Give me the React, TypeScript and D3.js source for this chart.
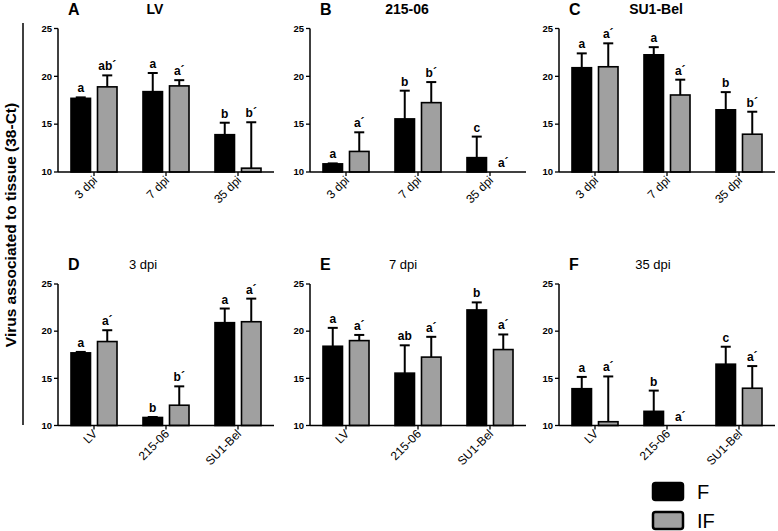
import React from 'react';
import * as d3 from 'd3';

// groups and series
const viruses = ['LV', '215-06', 'SU1-Bel'];
const times = ['3 dpi', '7 dpi', '35 dpi'];
const series = ['F', 'IF'];

// mean (38-Ct) per virus, per time point
const meanF = [[17.7, 18.4, 13.9], [10.85, 15.55, 11.5], [20.9, 22.25, 16.5]];
const errF = [[0.1, 1.95, 1.25], [0.05, 2.95, 2.2], [1.5, 0.8, 1.85]];
const meanIF = [[18.9, 19.0, 10.4], [12.15, 17.25, null], [21.0, 18.05, 13.95]];
const errIF = [[1.2, 0.6, 4.8], [2.0, 2.15, null], [2.45, 1.6, 2.35]];

// significance letters, top row: per virus panel, per time
const topLettersF = [['a', 'a', 'b'], ['a', 'b', 'c'], ['a', 'a', 'b']];
const topLettersIF = [['ab´', 'a´', 'b´'], ['a´', 'b´', 'a´'], ['a´', 'a´', 'b´']];
// bottom row: per time panel, per virus
const bottomLettersF = [['a', 'b', 'a'], ['a', 'ab', 'b'], ['a', 'b', 'c']];
const bottomLettersIF = [['a´', 'b´', 'a´'], ['a´', 'a´', 'a´'], ['a´', 'a´', 'a´']];

const topPanelLabels = ['A', 'B', 'C'];
const bottomPanelLabels = ['D', 'E', 'F'];
const yTicks = [10, 15, 20, 25];

const FONT = "Arial, 'Liberation Sans', sans-serif";
const GREY = '#a0a0a0';

type PanelProps = {
  x0: number;
  top: number;
  bottom: number;
  label: string;
  title: string;
  titleX: number;
  boldTitle: boolean;
  categories: string[];
  fVals: (number | null)[];
  fErr: (number | null)[];
  ifVals: (number | null)[];
  ifErr: (number | null)[];
  fLetters: string[];
  ifLetters: string[];
};

const Panel: React.FC<PanelProps> = (p) => {
  const width = 216;
  const y = d3.scaleLinear().domain([10, 25]).range([p.bottom, p.top]);
  const x = d3.scaleBand<string>().domain(p.categories).range([p.x0, p.x0 + width]).padding(0);
  const xs = d3.scaleBand<string>().domain(series).range([0, x.bandwidth()])
    .paddingInner(0.264).paddingOuter(0.49);

  const bars: JSX.Element[] = [];
  p.categories.forEach((c, i) => {
    const rows = [
      { s: 'F', v: p.fVals[i], e: p.fErr[i], lab: p.fLetters[i], fill: '#000' },
      { s: 'IF', v: p.ifVals[i], e: p.ifErr[i], lab: p.ifLetters[i], fill: GREY },
    ];
    rows.forEach((r) => {
      const bx = (x(c) ?? 0) + (xs(r.s) ?? 0);
      const bw = xs.bandwidth();
      const cx = bx + bw / 2;
      if (r.v == null) {
        bars.push(
          <text key={c + r.s + 't'} x={cx} y={p.bottom - 5} textAnchor="middle"
            fontSize={12} fontWeight="bold" fontFamily={FONT}>{r.lab}</text>
        );
        return;
      }
      const errTop = y(r.v + (r.e ?? 0));
      bars.push(
        <g key={c + r.s}>
          <line x1={cx} x2={cx} y1={y(r.v)} y2={errTop} stroke="#000" strokeWidth={2} />
          <line x1={cx - 5} x2={cx + 5} y1={errTop} y2={errTop} stroke="#000" strokeWidth={2} />
          <rect x={bx} y={y(r.v)} width={bw} height={p.bottom - y(r.v)}
            fill={r.fill} stroke="#000" strokeWidth={1.6} />
          <text x={cx} y={errTop - 5} textAnchor="middle" fontSize={12}
            fontWeight="bold" fontFamily={FONT}>{r.lab}</text>
        </g>
      );
    });
  });

  return (
    <g>
      <text x={p.x0 + 10} y={p.top - 14} fontSize={16} fontWeight="bold" fontFamily={FONT}>{p.label}</text>
      <text x={p.x0 + p.titleX} y={p.top - 15} textAnchor="middle" fontSize={p.boldTitle ? 14 : 13}
        fontWeight={p.boldTitle ? 'bold' : 'normal'} fontFamily={FONT}>{p.title}</text>
      {bars}
      {/* y axis */}
      <line x1={p.x0} x2={p.x0} y1={p.bottom} y2={p.top} stroke="#000" strokeWidth={1.5} />
      {yTicks.map((t) => (
        <g key={t}>
          <line x1={p.x0 - 4} x2={p.x0} y1={y(t)} y2={y(t)} stroke="#000" strokeWidth={1.3} />
          <text x={p.x0 - 6} y={y(t)} dy="0.35em" textAnchor="end" fontSize={9.5}
            fontWeight="bold" fontFamily={FONT}>{t}</text>
        </g>
      ))}
      {/* x axis */}
      <line x1={p.x0} x2={p.x0 + width} y1={p.bottom} y2={p.bottom} stroke="#000" strokeWidth={1.5} />
      {p.categories.map((c) => {
        const cx = (x(c) ?? 0) + x.bandwidth() / 2;
        return (
          <g key={c}>
            <line x1={cx} x2={cx} y1={p.bottom} y2={p.bottom + 4} stroke="#000" strokeWidth={1.3} />
            <text transform={`translate(${cx + 4},${p.bottom + 9}) rotate(-45)`} textAnchor="end"
              fontSize={12} fontFamily={FONT}>{c}</text>
          </g>
        );
      })}
    </g>
  );
};

const App: React.FC = () => {
  const panelX = [58, 310, 559];
  const topRow = { top: 28.5, bottom: 172 };
  const bottomRow = { top: 284, bottom: 425.5 };
  const bottomTitleX = [85, 93, 94];

  return (
    <svg width={778} height={531} style={{ position: 'absolute', left: 0, top: 0, background: '#fff' }}>
      <rect width={778} height={531} fill="#fff" />
      <text transform="translate(16,225) rotate(-90)" textAnchor="middle" fontSize={15.5}
        fontWeight="bold" fontFamily={FONT}>Virus associated to tissue (38-Ct)</text>
      <line x1={23} x2={23} y1={23} y2={425} stroke="#000" strokeWidth={1.5} />

      {viruses.map((v, vi) => (
        <Panel key={v} x0={panelX[vi]} top={topRow.top} bottom={topRow.bottom}
          label={topPanelLabels[vi]} title={v} titleX={97} boldTitle={true} categories={times}
          fVals={meanF[vi]} fErr={errF[vi]} ifVals={meanIF[vi]} ifErr={errIF[vi]}
          fLetters={topLettersF[vi]} ifLetters={topLettersIF[vi]} />
      ))}

      {times.map((t, ti) => (
        <Panel key={t} x0={panelX[ti]} top={bottomRow.top} bottom={bottomRow.bottom}
          label={bottomPanelLabels[ti]} title={t} titleX={bottomTitleX[ti]} boldTitle={false} categories={viruses}
          fVals={viruses.map((_, vi) => meanF[vi][ti])} fErr={viruses.map((_, vi) => errF[vi][ti])}
          ifVals={viruses.map((_, vi) => meanIF[vi][ti])} ifErr={viruses.map((_, vi) => errIF[vi][ti])}
          fLetters={bottomLettersF[ti]} ifLetters={bottomLettersIF[ti]} />
      ))}

      {/* legend */}
      {series.map((s, i) => (
        <g key={s} transform={`translate(653,${483 + i * 29})`}>
          <rect x={0} y={0} width={30} height={17} rx={2.5}
            fill={s === 'F' ? '#000' : GREY} stroke="#000" strokeWidth={2.5} />
          <text x={44} y={16} fontSize={20} fontFamily={FONT}>{s}</text>
        </g>
      ))}
    </svg>
  );
};

export default App;
